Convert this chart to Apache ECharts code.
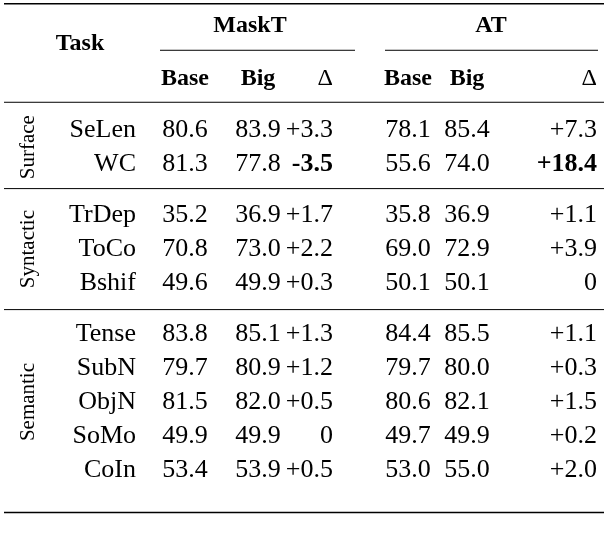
<!DOCTYPE html>
<html><head><meta charset="utf-8">
<script src="https://cdn.jsdelivr.net/npm/echarts@6/dist/echarts.min.js"></script>
<style>html,body{margin:0;background:#fff}#c{width:608px;height:540px}</style></head>
<body><div id="c"></div>
<script>
const tasks=["SeLen","WC","TrDep","ToCo","Bshif","Tense","SubN","ObjN","SoMo","CoIn"];
const rowPos=[0,1,2.5,3.5,4.5,6,7,8,9,10];
const groups=[["Surface",0.5],["Syntactic",3.5],["Semantic",8]];
const maskBase=["80.6","81.3","35.2","70.8","49.6","83.8","79.7","81.5","49.9","53.4"];
const maskBig=["83.9","77.8","36.9","73.0","49.9","85.1","80.9","82.0","49.9","53.9"];
const maskDelta=["+3.3","-3.5","+1.7","+2.2","+0.3","+1.3","+1.2","+0.5","0","+0.5"];
const atBase=["78.1","55.6","35.8","69.0","50.1","84.4","79.7","80.6","49.7","53.0"];
const atBig=["85.4","74.0","36.9","72.9","50.1","85.5","80.0","82.1","49.9","55.0"];
const atDelta=["+7.3","+18.4","+1.1","+3.9","0","+1.1","+0.3","+1.5","+0.2","+2.0"];
const boldCells=[[1,"maskDelta"],[1,"atDelta"]];
const F='"Liberation Serif", "DejaVu Serif", serif';
const chart=echarts.init(document.getElementById('c'));
function txt(api,x,y,s,align,bold,size,rot){
  const p=api.coord([x,y]);
  return {type:'text',x:p[0],y:p[1],rotation:rot||0,style:{text:s,fill:'#000',font:(bold?'bold ':'')+(size||26)+'px '+F,align:align||'center',verticalAlign:'middle'}};
}
function line(api,x1,x2,y,w){
  const a=api.coord([x1,y]),b=api.coord([x2,y]);
  return {type:'line',shape:{x1:a[0],y1:a[1],x2:b[0],y2:b[1]},style:{stroke:'#000',lineWidth:w||1}};
}
const isBold=(i,k)=>boldCells.some(c=>c[0]===i&&c[1]===k);
chart.setOption({
  animation:false,
  grid:{left:0,right:0,top:1,height:520},
  xAxis:{type:'value',min:0,max:608,show:false},
  yAxis:{type:'value',min:-3.8,max:11.5,inverse:true,show:false},
  series:[{
    type:'custom',coordinateSystem:'cartesian2d',
    data:tasks.map((t,i)=>[i]),
    renderItem:function(params,api){
      const i=params.dataIndex, v=rowPos[i], ch=[];
      ch.push(txt(api,136,v,tasks[i],'right'));
      ch.push(txt(api,185,v,maskBase[i]));
      ch.push(txt(api,258,v,maskBig[i]));
      ch.push(txt(api,333,v,maskDelta[i],'right',isBold(i,'maskDelta')));
      ch.push(txt(api,408,v,atBase[i]));
      ch.push(txt(api,467,v,atBig[i]));
      ch.push(txt(api,597,v,atDelta[i],'right',isBold(i,'atDelta')));
      if(i===0){
        ch.push(txt(api,80,-2.55,'Task','center',true,24));
        ch.push(txt(api,250,-3.07,'MaskT','center',true,24));
        ch.push(txt(api,491,-3.07,'AT','center',true,24));
        ch.push(txt(api,185,-1.5,'Base','center',true,24));
        ch.push(txt(api,258,-1.5,'Big','center',true,24));
        ch.push(txt(api,333,-1.5,'Δ','right',false,24));
        ch.push(txt(api,408,-1.5,'Base','center',true,24));
        ch.push(txt(api,467,-1.5,'Big','center',true,24));
        ch.push(txt(api,597,-1.5,'Δ','right',false,24));
        ch.push(line(api,4,604,-3.72,1.5));
        ch.push(line(api,160,355,-2.35,1));
        ch.push(line(api,385,598,-2.35,1));
        ch.push(line(api,4,604,-0.82,1));
        ch.push(line(api,4,604,1.72,1));
        ch.push(line(api,4,604,5.28,1));
        ch.push(line(api,4,604,11.25,1.5));
        groups.forEach(g=>ch.push(txt(api,28,g[1],g[0],'center',false,21,Math.PI/2)));
      }
      return {type:'group',children:ch};
    }
  }]
});
</script></body></html>
